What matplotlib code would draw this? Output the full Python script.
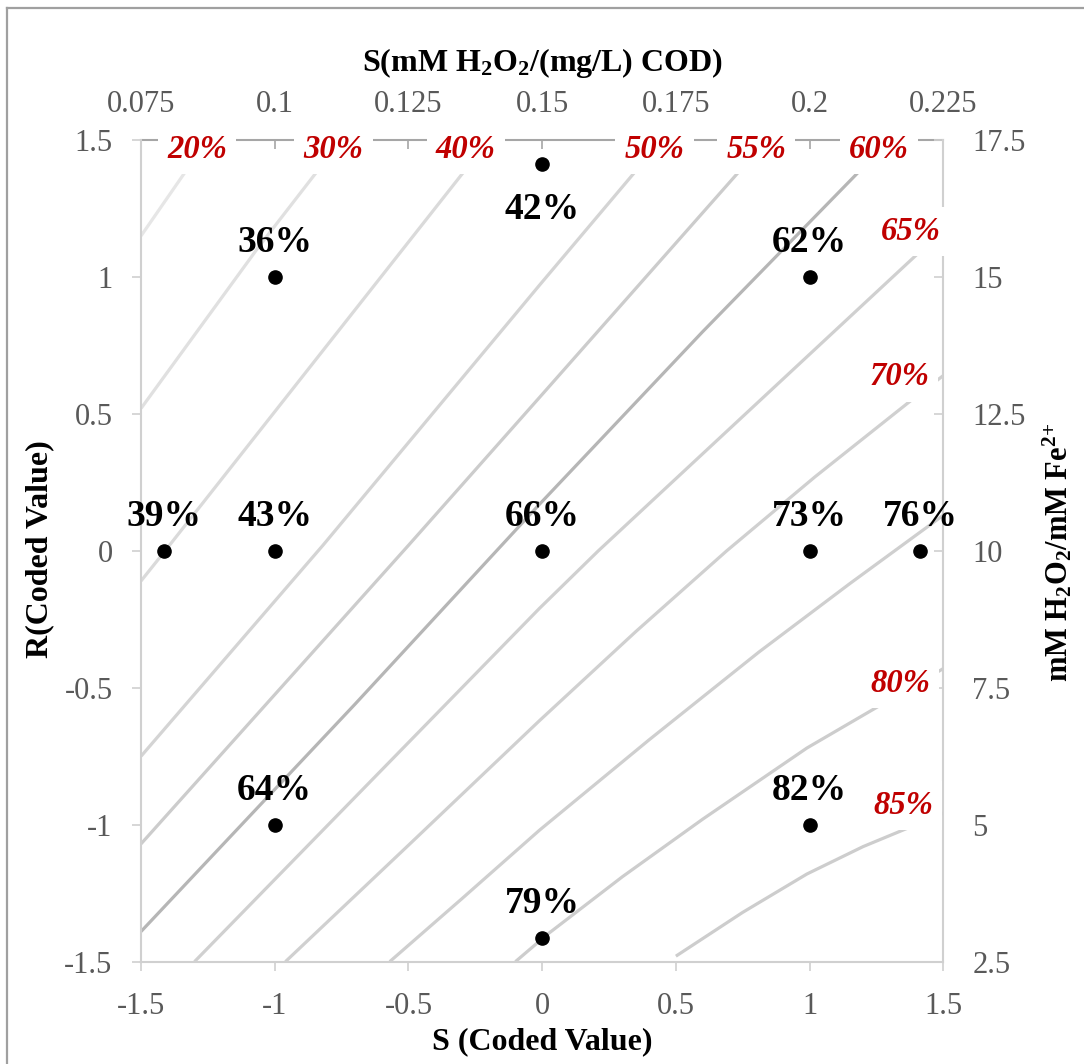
import matplotlib
matplotlib.use('Agg')
import matplotlib.pyplot as plt
from matplotlib.lines import Line2D

plt.rcParams['font.family'] = ['Liberation Serif', 'DejaVu Serif']
plt.rcParams['mathtext.fontset'] = 'custom'
plt.rcParams['mathtext.rm'] = 'Liberation Serif'
plt.rcParams['mathtext.bf'] = 'Liberation Serif:bold'
plt.rcParams['mathtext.it'] = 'Liberation Serif:italic'
plt.rcParams['mathtext.default'] = 'regular'

# design points in coded units and measured removal (%)
pt_s = [-1.414, -1, -1, 0, 0, 1, 1, 1.414, -1, 1, 0]
pt_r = [0, 0, 1, 1.414, 0, 1, 0, 0, -1, -1, -1.414]
pt_val = [39, 43, 36, 42, 66, 62, 73, 76, 64, 82, 79]

# iso-removal lines, traced in coded (S, R) units
c20_s = [-1.50, -1.33, -1.25]
c20_r = [1.15, 1.39, 1.50]
c30_s = [-1.50, -1.06, -0.83, -0.76]
c30_r = [0.52, 1.11, 1.40, 1.50]
c40_s = [-1.50, -1.41, -0.28, -0.20]
c40_r = [-0.11, 0.00, 1.40, 1.50]
c50_s = [-1.50, -0.82, -0.01, 0.37, 0.45]
c50_r = [-0.75, 0.02, 0.97, 1.41, 1.50]
c55_s = [-1.50, -0.50, -0.01, 0.75, 0.84]
c55_r = [-1.07, 0.02, 0.56, 1.40, 1.50]
c60_s = [-1.50, -0.70, -0.01, 0.60, 1.21, 1.30]
c60_r = [-1.39, -0.56, 0.17, 0.80, 1.41, 1.50]
c65_s = [-1.30, -0.01, 0.21, 1.41, 1.50]
c65_r = [-1.50, -0.21, 0.00, 1.09, 1.17]
c70_s = [-0.96, -0.50, -0.01, 0.35, 0.69, 1.02, 1.40, 1.50]
c70_r = [-1.50, -1.075, -0.62, -0.295, 0.00, 0.27, 0.565, 0.64]
c75_s = [-0.57, -0.30, -0.01, 0.40, 0.81, 1.15, 1.50]
c75_r = [-1.50, -1.27, -1.02, -0.69, -0.37, -0.12, 0.13]
c80_s = [-0.10, 0.02, 0.30, 0.60, 0.99, 1.28, 1.50]
c80_r = [-1.50, -1.40, -1.19, -0.98, -0.72, -0.555, -0.43]
c85_s = [0.50, 0.75, 0.99, 1.20, 1.41, 1.50]
c85_r = [-1.48, -1.32, -1.18, -1.08, -0.995, -0.958]

coded_ticks = [-1.5, -1, -0.5, 0, 0.5, 1, 1.5]
coded_labels = ['-1.5', '-1', '-0.5', '0', '0.5', '1', '1.5']
s_ticks = [0.075, 0.1, 0.125, 0.15, 0.175, 0.2, 0.225]
s_labels = ['0.075', '0.1', '0.125', '0.15', '0.175', '0.2', '0.225']
r_ticks = [2.5, 5, 7.5, 10, 12.5, 15, 17.5]
r_labels = ['2.5', '5', '7.5', '10', '12.5', '15', '17.5']

contours = [
    (20, c20_s, c20_r, '#E6E6E6', (-1.29, 1.465)),
    (30, c30_s, c30_r, '#E0E0E0', (-0.78, 1.465)),
    (40, c40_s, c40_r, '#DADADA', (-0.285, 1.465)),
    (50, c50_s, c50_r, '#D4D4D4', (0.42, 1.465)),
    (55, c55_s, c55_r, '#CCCCCC', (0.80, 1.465)),
    (60, c60_s, c60_r, '#B6B6B6', (1.26, 1.465)),
    (65, c65_s, c65_r, '#D0D0D0', (1.378, 1.165)),
    (70, c70_s, c70_r, '#D0D0D0', (1.335, 0.635)),
    (75, c75_s, c75_r, '#CFCFCF', None),
    (80, c80_s, c80_r, '#CDCDCD', (1.338, -0.485)),
    (85, c85_s, c85_r, '#CDCDCD', (1.35, -0.93)),
]

fig = plt.figure(figsize=(10.84, 10.64), dpi=100)
ax = fig.add_axes([0.1301, 0.0962, 0.7401, 0.7722])
ax.set_xlim(-1.5, 1.5)
ax.set_ylim(-1.5, 1.5)

for lev, xs, ys, col, lab in contours:
    ax.plot(xs, ys, color=col, lw=2.3, solid_capstyle='butt',
            solid_joinstyle='round', zorder=2)
    if lab is not None:
        ax.text(lab[0], lab[1], f'{lev}%', color='#C00000', fontsize=23.5,
                fontweight='bold', fontstyle='italic', ha='center', va='center',
                zorder=6, bbox=dict(boxstyle='square,pad=0.28', fc='white', ec='none'))

ax.plot(pt_s, pt_r, 'o', color='black', ms=9.5, zorder=4, clip_on=False)
for s, r, v in zip(pt_s, pt_r, pt_val):
    dy = -40 if r > 1.2 else 18
    ax.annotate(f'{v}%', (s, r), xytext=(0, dy), textcoords='offset points',
                ha='center', va='baseline', fontsize=27, fontweight='bold',
                color='black', zorder=5)

# bottom / left coded axes
ax.set_xticks(coded_ticks)
ax.set_xticklabels(coded_labels)
ax.set_yticks(coded_ticks)
ax.set_yticklabels(coded_labels)
ax.tick_params(axis='x', direction='out', length=6.5, width=1.2, color='#D0D0D0',
               pad=15, labelsize=22, labelcolor='#595959')
ax.tick_params(axis='y', direction='out', length=6.5, width=1.2, color='#D0D0D0',
               pad=14, labelsize=22, labelcolor='#595959')
for side in ['top', 'right']:
    ax.spines[side].set_visible(False)
for side in ['left', 'bottom']:
    ax.spines[side].set_color('#D0D0D0')
    ax.spines[side].set_linewidth(1.5)

# real-unit axes
secx = ax.secondary_xaxis('top', functions=(lambda x: 0.15 + 0.05 * x,
                                             lambda v: (v - 0.15) / 0.05))
secx.set_xticks(s_ticks)
secx.set_xticklabels(s_labels)
secx.tick_params(direction='in', length=6.5, width=1.2, color='#A6A6A6',
                 pad=15, labelsize=22, labelcolor='#595959')
secx.spines['top'].set_color('#A6A6A6')
secx.spines['top'].set_linewidth(1.5)

secy = ax.secondary_yaxis('right', functions=(lambda y: 10 + 5 * y,
                                               lambda v: (v - 10) / 5))
secy.set_yticks(r_ticks)
secy.set_yticklabels(r_labels)
secy.tick_params(direction='in', length=6.5, width=1.2, color='#D0D0D0',
                 pad=21, labelsize=22, labelcolor='#595959')
secy.spines['right'].set_color('#D0D0D0')
secy.spines['right'].set_linewidth(1.5)

# axis titles
fig.text(0.5, 0.9408, r'S(mM H$_2$O$_2$/(mg/L) COD)', ha='center', va='center',
         fontsize=23, fontweight='bold')
fig.text(0.5, 0.0205, 'S (Coded Value)', ha='center', va='center',
         fontsize=23, fontweight='bold')
fig.text(0.0369, 0.484, 'R(Coded Value)', ha='center', va='center',
         rotation=90, fontsize=23, fontweight='bold')
fig.text(0.976, 0.481, r'mM H$_2$O$_2$/mM Fe$^{2{+}}$', ha='center', va='center',
         rotation=90, fontsize=22, fontweight='bold')

# chart frame
fx, fy = 7 / 1084, 1 - 8 / 1064
fig.add_artist(Line2D([fx, 1.0], [fy, fy], transform=fig.transFigure,
                      color='#A0A0A0', lw=1.6))
fig.add_artist(Line2D([fx, fx], [fy, 0.0], transform=fig.transFigure,
                      color='#A0A0A0', lw=1.6))

fig.savefig('out.png', dpi=100)
